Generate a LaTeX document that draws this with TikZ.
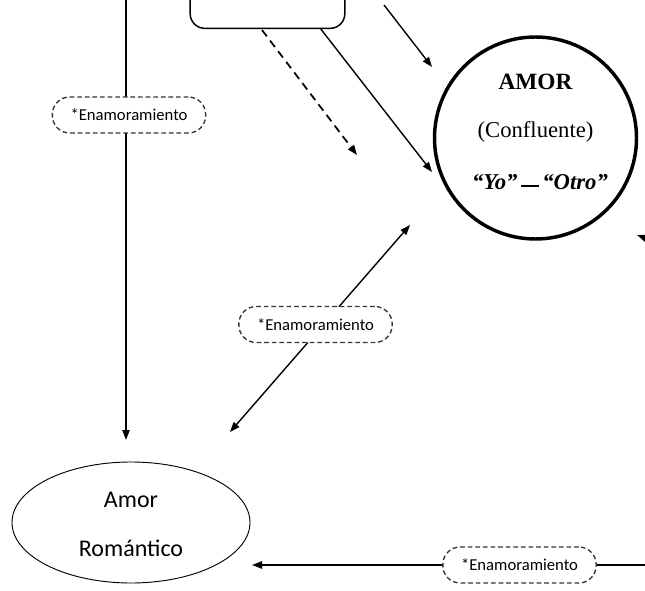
\documentclass[tikz,border=0pt]{standalone}
\usepackage{fontspec}
\setmainfont{Liberation Serif}
\newfontfamily\calib{Carlito}
\usetikzlibrary{arrows.meta,shapes.geometric}

\begin{document}
\begin{tikzpicture}[x=0.75pt,y=-0.75pt,
  tip/.tip={Triangle[length=7.5pt,width=5.5pt]},
  conn/.style={line width=1.05pt,-tip},
  both/.style={line width=1.05pt,tip-tip},
  dashconn/.style={line width=1.3pt,-tip,dash pattern=on 6pt off 4pt},
  tag/.style={draw=black!80,dash pattern=on 3.5pt off 2.2pt,line width=1pt,
    fill=white,rounded corners=13pt,minimum width=115pt,minimum height=27pt,
    inner sep=0pt,font=\calib\fontsize{12.5}{14}\selectfont},
  lbl/.style={inner sep=0pt},
]
\useasboundingbox (0,0) rectangle (645,591);
\clip (0,0) rectangle (645,591);

% main shapes
\node[draw,line width=1.1pt,rounded corners=11pt,minimum width=116pt,
      minimum height=44pt] (src) at (267.5,-1) {};
\node[circle,draw,line width=2.6pt,minimum size=151.5pt,inner sep=0pt] (amor) at (535.5,138) {};
\node[ellipse,draw,line width=0.7pt,minimum width=178.5pt,minimum height=90.75pt,
      inner sep=0pt] (rom) at (131,522.5) {};

% circle text
\node[lbl,font=\fontsize{17.5}{20}\selectfont\bfseries] (amorT) at (535.5,82) {AMOR};
\node[lbl,font=\fontsize{17}{20}\selectfont] (conf) at (535.5,132) {(Confluente)};
\node[lbl,font=\fontsize{17}{20}\selectfont\bfseries\itshape] (yo) at (540,182)
  {“Yo”\,\rule[1.5pt]{13pt}{2pt}\,“Otro”};

% ellipse text
\node[lbl,font=\calib\fontsize{18}{21}\selectfont] (romA) at (131,500) {Amor};
\node[lbl,font=\calib\fontsize{18}{21}\selectfont] (romB) at (131,548) {Romántico};

% connector end points
\coordinate (v0) at (126,-5);
\coordinate (v1) at (126,440);
\coordinate (d0) at (262,30);
\coordinate (d1) at (357,155);
\coordinate (s0) at (320,28);
\coordinate (s1) at (432,172);
\coordinate (t0) at (384,5);
\coordinate (t1) at (432,67);
\coordinate (r0) at (662,244);
\coordinate (r1) at (637,235);
\coordinate (b0) at (410,225);
\coordinate (b1) at (230,432);
\coordinate (h0) at (650,565);
\coordinate (h1) at (252,565);

% connectors
\draw[conn] (v0) -- (v1);
\draw[dashconn] (d0) -- (d1);
\draw[conn] (s0) -- (s1);
\draw[conn] (t0) -- (t1);
\draw[conn] (r0) -- (r1);
\draw[both] (b1) -- (b0);
\draw[conn] (h0) -- (h1);

% labels on connectors
\node[tag] (tagA) at (129,115) {*Enamoramiento};
\node[tag] (tagB) at (315.5,324.5) {*Enamoramiento};
\node[tag] (tagC) at (519.5,565) {*Enamoramiento};
\end{tikzpicture}
\end{document}
